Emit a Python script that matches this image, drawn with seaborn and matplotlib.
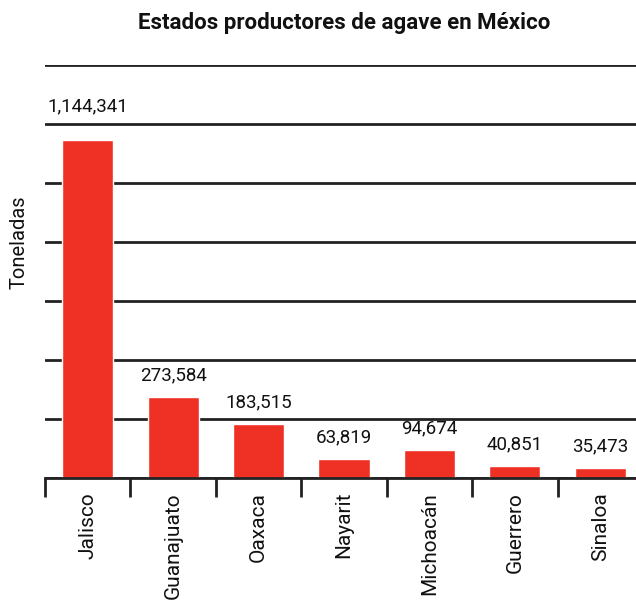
import matplotlib
matplotlib.use("Agg")
import matplotlib.pyplot as plt
import seaborn as sns
import numpy as np
import pandas as pd

estados = ["Jalisco", "Guanajuato", "Oaxaca", "Nayarit", "Michoacán", "Guerrero", "Sinaloa"]
toneladas = [1144341, 273584, 183515, 63819, 94674, 40851, 35473]

sns.set_theme(style="white")
plt.rcParams["font.family"] = ["Roboto", "DejaVu Sans"]

df = pd.DataFrame({"estado": estados, "toneladas": toneladas})

fig = plt.figure(figsize=(6.36, 6.0), dpi=100)
ax = fig.add_axes([45/636, 122/600, 598/636, 413/600])

sns.barplot(data=df, x="estado", y="toneladas", color="#EE3124", width=0.6,
            saturation=1, ax=ax, zorder=3)

ax.set_ylim(0, 1400000)
ax.set_xlim(-0.5, len(estados) - 0.5)
ax.set_yticks(np.arange(0, 1400001, 200000))
ax.yaxis.grid(True, color="#222222", linewidth=2, zorder=0)
ax.set_axisbelow(True)
ax.tick_params(axis="y", left=False, labelleft=False)

for s in ["top", "right", "left"]:
    ax.spines[s].set_visible(False)
ax.spines["bottom"].set_color("#222222")
ax.spines["bottom"].set_linewidth(2)
ax.spines["bottom"].set_zorder(4)

ax.set_xticks(np.arange(-0.5, len(estados), 1), minor=True)
ax.tick_params(axis="x", which="minor", length=14, width=2, color="#222222", bottom=True)
ax.tick_params(axis="x", which="major", length=0, pad=10, labelsize=15, labelcolor="#111111")
plt.setp(ax.get_xticklabels(), rotation=90, va="top", ha="center")

vmax = max(toneladas)
for i, v in enumerate(toneladas):
    off = 18 if v == vmax else 9
    ax.annotate(f"{v:,}", (i, v), xytext=(0, off), textcoords="offset points",
                ha="center", va="bottom", fontsize=13.5, color="#111111", zorder=5)

ax.set_xlabel("")
ax.set_ylabel("Toneladas", fontsize=14.5, color="#111111")
ax.yaxis.set_label_coords(-0.028, 0.57)
ax.set_title("Estados productores de agave en México", fontsize=16,
             fontweight="bold", pad=26, color="#111111")

fig.savefig("out.png", dpi=100)
